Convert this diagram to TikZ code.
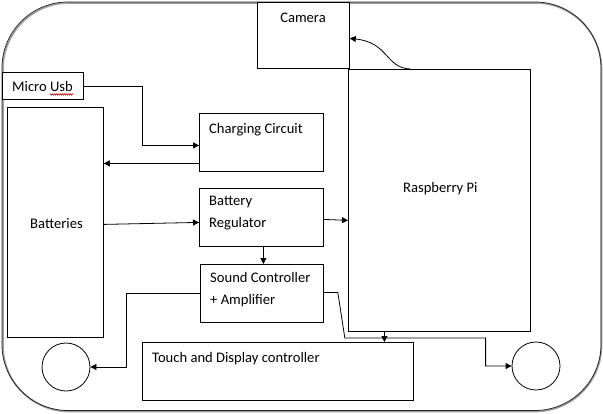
\documentclass[tikz,border=0pt]{standalone}
\usepackage{fontspec}
\setmainfont{Carlito}
\usetikzlibrary{arrows.meta,decorations.pathmorphing}
\begin{document}
\begin{tikzpicture}[x=1pt,y=-1pt,
  box/.style={draw,line width=0.8pt,inner sep=0pt,anchor=north west},
  spk/.style={draw,line width=0.8pt,circle,inner sep=0pt,minimum size=48pt},
  lbl/.style={anchor=base west,inner sep=0pt,font=\fontsize{14.6}{21.5}\selectfont,align=left},
  arr/.style={line width=0.8pt,-{Triangle[length=6pt,width=6pt]}},
  ln/.style={line width=0.8pt}]
\useasboundingbox (0,0) rectangle (603,413);
% outer case
\draw[gray!75,line width=1.6pt,rounded corners=66pt] (3,3) rectangle (601.5,411.5);
\draw[line width=0.8pt,black!85,rounded corners=66pt] (2,2) rectangle (601,410.5);
% boxes
\node[box,minimum width=92pt,minimum height=66pt,fill=white] (cam) at (257,2) {};
\node[box,minimum width=182pt,minimum height=262pt] (pi) at (348,69) {};
\node[box,minimum width=81pt,minimum height=27pt,fill=white] (usb) at (2,72) {};
\node[box,minimum width=96pt,minimum height=230pt] (bat) at (7,107) {};
\node[box,minimum width=124pt,minimum height=58pt] (cc) at (199,113) {};
\node[box,minimum width=124pt,minimum height=58pt] (reg) at (199,188) {};
\node[box,minimum width=123pt,minimum height=58pt] (snd) at (200,264) {};
\node[box,minimum width=271pt,minimum height=58pt] (tdc) at (142,342) {};
\node[spk] (spkL) at (66,367) {};
\node[spk] (spkR) at (536,366) {};
% labels
\node[lbl,anchor=base] (camt) at (303,22) {Camera};
\node[lbl] (pit) at (403,192) {Raspberry Pi};
\node[lbl] (usbt) at (12,91) {Micro Usb};
\node[lbl] (batt) at (30,228) {Batteries};
\node[lbl] (cct) at (209,133) {Charging Circuit};
\node[lbl] (regt) at (209,227) {Battery\\Regulator};
\node[lbl] (sndt) at (210,304) {Sound Controller\\+ Amplifier};
\node[lbl] (tdct) at (152,362) {Touch and Display controller};
% spell-check squiggle
\draw[red!80!black,line width=0.5pt,decorate,decoration={zigzag,amplitude=0.7pt,segment length=2pt}] (50,94.5) -- (73,94.5);
% connectors
\draw[arr] (usb.east) -- ++(59,0) |- ([yshift=-3pt]cc.west);
\draw[arr] ([yshift=-21pt]cc.west) coordinate (c2) -- (c2 -| bat.east);
\draw[arr] ([yshift=-2pt]bat.east) -- ([yshift=-5pt]reg.west);
\draw[arr] ([yshift=-2pt]reg.east) coordinate (c4) -- ([yshift=-1pt]c4 -| pi.west);
\draw[arr] ([xshift=2pt]reg.south) coordinate (c5) -- (c5 |- snd.north);
\draw[arr] (snd.west) -- ++(-74,0) |- (spkL.east);
\draw[arr] ([yshift=1pt]snd.east) -- ++(14,0) -- ++(7,45.5) -| ([xshift=-26pt]spkR.west) -- (spkR.west);
\draw[arr] ([xshift=-55pt]pi.south) coordinate (c8) -- (c8 |- tdc.north);
\draw[arr] ([xshift=-29pt]pi.north) .. controls +(-25,-1) and +(39,4) .. ([yshift=-3pt]cam.east);
\end{tikzpicture}
\end{document}
